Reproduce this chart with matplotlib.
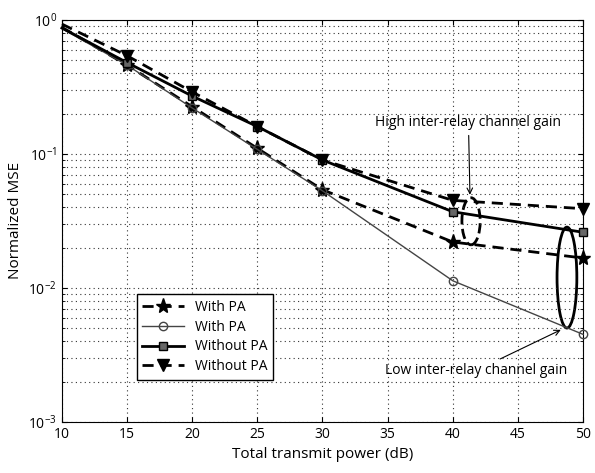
import numpy as np
import matplotlib
matplotlib.use('Agg')
import matplotlib.pyplot as plt
from matplotlib.patches import Ellipse

plt.rcParams['font.family'] = ['Open Sans', 'DejaVu Sans']

# values
power = [10, 15, 20, 25, 30, 40, 50]
mse_star = [0.88, 0.46, 0.225, 0.11, 0.054, 0.022, 0.0167]
mse_circle = [0.86, 0.46, 0.22, 0.108, 0.053, 0.0113, 0.0045]
mse_square = [0.87, 0.48, 0.27, 0.16, 0.09, 0.037, 0.026]
mse_tri = [0.93, 0.54, 0.29, 0.16, 0.09, 0.045, 0.039]
labels = ['With PA', 'With PA', 'Without PA', 'Without PA']

fig = plt.figure(figsize=(5.95, 4.73), dpi=100)
ax = fig.add_axes([0.104, 0.108, 0.876, 0.85])

mk = slice(1, None)
ax.plot(power, mse_star, '--', color='k', lw=2, marker='*', ms=11, markevery=mk,
        dashes=(4, 2.5), label=labels[0], clip_on=False, zorder=3)
ax.plot(power, mse_circle, '-', color='#444444', lw=1, marker='o', ms=6,
        mfc='none', mec='#444444', markevery=mk, label=labels[1], clip_on=False, zorder=3)
ax.plot(power, mse_square, '-', color='k', lw=2, marker='s', ms=6, mfc='#666666',
        mec='k', markevery=mk, label=labels[2], clip_on=False, zorder=3)
ax.plot(power, mse_tri, '--', color='k', lw=2, marker='v', ms=9, markevery=mk,
        dashes=(4, 2.5), label=labels[3], clip_on=False, zorder=3)

ax.set_yscale('log')
ax.set_xlim(10, 50)
ax.set_ylim(1e-3, 1)
ax.set_xticks(np.arange(10, 51, 5))
ax.grid(True, which='major', ls=(0, (1, 3)), color='#333333', lw=0.8)
ax.grid(True, which='minor', axis='y', ls=(0, (1, 3)), color='#333333', lw=0.8)
ax.tick_params(which='both', direction='in', top=True, right=True, labelsize=10)

ax.set_xlabel('Total transmit power (dB)', fontsize=11)
ax.set_ylabel('Normalized MSE', fontsize=11)

# annotations
ax.add_patch(Ellipse((0.969, 0.359), 0.038, 0.251, transform=ax.transAxes,
                     fill=False, lw=2, color='k'))
ax.add_patch(Ellipse((0.785, 0.499), 0.035, 0.117, transform=ax.transAxes,
                     fill=False, lw=2, ls='--', color='k'))
ax.annotate('High inter-relay channel gain', xy=(0.783, 0.558), xycoords='axes fraction',
            xytext=(0.78, 0.745), textcoords='axes fraction', ha='center', va='center',
            fontsize=10, arrowprops=dict(arrowstyle='->', lw=0.8, color='k'))
ax.annotate('Low inter-relay channel gain', xy=(0.962, 0.232), xycoords='axes fraction',
            xytext=(0.795, 0.128), textcoords='axes fraction', ha='center', va='center',
            fontsize=10, arrowprops=dict(arrowstyle='->', lw=0.8, color='k'))

ax.legend(loc='upper left', bbox_to_anchor=(0.13, 0.335), fontsize=10, fancybox=False,
          edgecolor='k', framealpha=1, handlelength=3, borderpad=0.4, labelspacing=0.35)

fig.savefig('out.png', dpi=100)
